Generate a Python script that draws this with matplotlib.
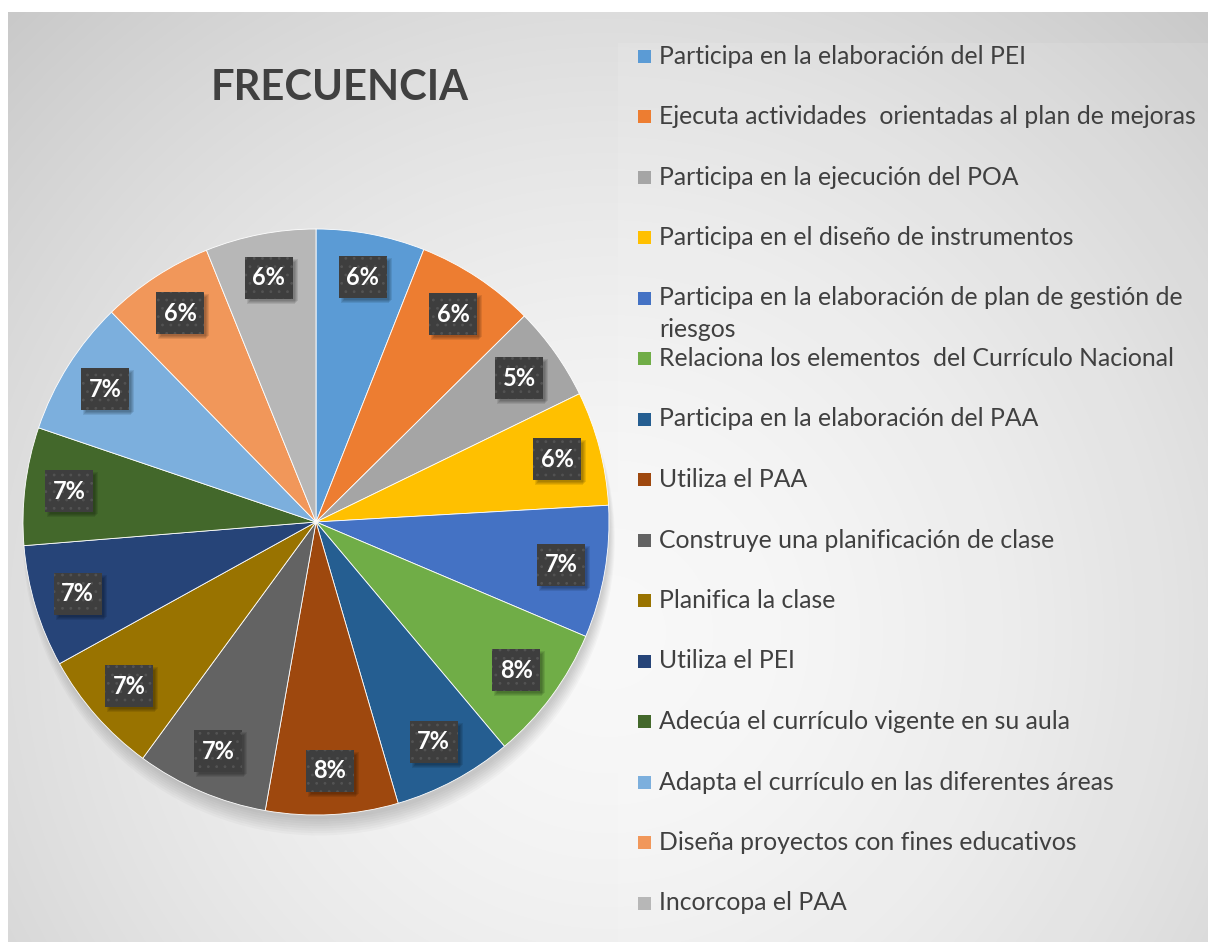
import matplotlib.pyplot as plt
import matplotlib.patches as mpatches
import matplotlib.transforms as mtransforms
import numpy as np

categories = [
    'Participa en la elaboración del PEI',
    'Ejecuta actividades  orientadas al plan de mejoras',
    'Participa en la ejecución del POA',
    'Participa en el diseño de instrumentos',
    'Participa en la elaboración de plan de gestión de\nriesgos',
    'Relaciona los elementos  del Currículo Nacional',
    'Participa en la elaboración del PAA',
    'Utiliza el PAA',
    'Construye una planificación de clase',
    'Planifica la clase',
    'Utiliza el PEI',
    'Adecúa el currículo vigente en su aula',
    'Adapta el currículo en las diferentes áreas',
    'Diseña proyectos con fines educativos',
    'Incorcopa el PAA',
]
values = [6.0, 6.6, 5.2, 6.3, 7.3, 7.5, 6.6, 7.3, 7.3, 6.9, 6.75, 6.5, 7.5, 6.2, 6.1]
pct_labels = ['6%', '6%', '5%', '6%', '7%', '8%', '7%', '8%', '7%', '7%',
              '7%', '7%', '7%', '6%', '6%']
colors = ['#5B9BD5', '#ED7D31', '#A5A5A5', '#FFC000', '#4472C4', '#70AD47',
          '#255E91', '#9E480E', '#636363', '#997300', '#264478', '#43682B',
          '#7CAFDD', '#F1975A', '#B7B7B7']

W, H = 1208, 942
plt.rcParams['font.family'] = ['Lato', 'DejaVu Sans']
plt.rcParams['hatch.linewidth'] = 0.8
fig = plt.figure(figsize=(W / 100, H / 100), dpi=100)
fig.patch.set_facecolor('white')

# background: radial gray gradient
bg = fig.add_axes([8 / W, 0, (W - 8) / W, (H - 12) / H])
bg.set_axis_off()
yy, xx = np.mgrid[0:H - 12, 0:W - 8]
d = np.hypot(xx - 600, yy - 620) / 900.0
shade = 0.975 - 0.2 * np.clip(d, 0, 1.2) ** 1.6
bg.imshow(np.dstack([shade] * 3), aspect='auto', extent=(0, 1, 0, 1),
          interpolation='bilinear')
bg.add_patch(mpatches.Rectangle(((618 - 8) / (W - 8), 0), 1, (H - 43) / (H - 12),
                                transform=bg.transAxes, color='white', alpha=0.1, lw=0))
bg.set_xlim(0, 1)
bg.set_ylim(0, 1)

fig.text(340 / W, 1 - 88 / H, 'FRECUENCIA', ha='center', va='center',
         fontsize=30, fontweight='bold', color='#404040')

# pie
cx, cy, r = 316, 522, 293
ax = fig.add_axes([(cx - r) / W, (H - cy - r) / H, 2 * r / W, 2 * r / H])
ax.set_axis_off()
for k in range(8):
    ax.add_patch(mpatches.Circle((0.01, -0.06 + 0.005 * k), 1.0 - 0.003 * k + 0.01, color='black',
                                 alpha=0.022, lw=0, zorder=0, clip_on=False))
lab_iter = iter(pct_labels)
wedges, texts, autotexts = ax.pie(values, colors=colors, startangle=90, counterclock=False,
                                  radius=1, autopct=lambda p: next(lab_iter),
                                  pctdistance=0.85,
                                  wedgeprops=dict(edgecolor='white', linewidth=0.6))
for t in autotexts:
    x, y = t.get_position()
    base = fig.dpi_scale_trans + mtransforms.ScaledTranslation(x, y, ax.transData)
    for s in range(4):
        ax.add_patch(mpatches.Rectangle((-0.24 + 0.02 + 0.01 * s, -0.21 - 0.05 + 0.01 * s),
                                        0.48, 0.42, transform=base, color='black',
                                        alpha=0.09, lw=0, zorder=3, clip_on=False))
    ax.add_patch(mpatches.Rectangle((-0.24, -0.21), 0.48, 0.42, transform=base,
                                    facecolor='#3e3e3e', edgecolor='#535353', lw=0,
                                    hatch='..', zorder=4, clip_on=False))
    t.set_color('white')
    t.set_fontsize(17)
    t.set_fontweight('bold')
    t.set_zorder(5)
ax.set_xlim(-1, 1)
ax.set_ylim(-1, 1)
ax.set_aspect('equal')

# legend
for i, (name, c) in enumerate(zip(categories, colors)):
    yc = 56 + 60.5 * i
    fig.patches.append(mpatches.Rectangle((638 / W, 1 - (yc + 6.5) / H), 13 / W, 13 / H,
                                          transform=fig.transFigure, color=c, lw=0))
    if '\n' in name:
        first, second = name.split('\n')
        fig.text(659 / W, 1 - yc / H, first, ha='left', va='center',
                 fontsize=17.8, color='#404040')
        fig.text(659 / W, 1 - (yc + 32) / H, second, ha='left', va='center',
                 fontsize=17.8, color='#404040')
    else:
        fig.text(659 / W, 1 - yc / H, name, ha='left', va='center',
                 fontsize=17.8, color='#404040')

fig.savefig('out.png', dpi=100)
